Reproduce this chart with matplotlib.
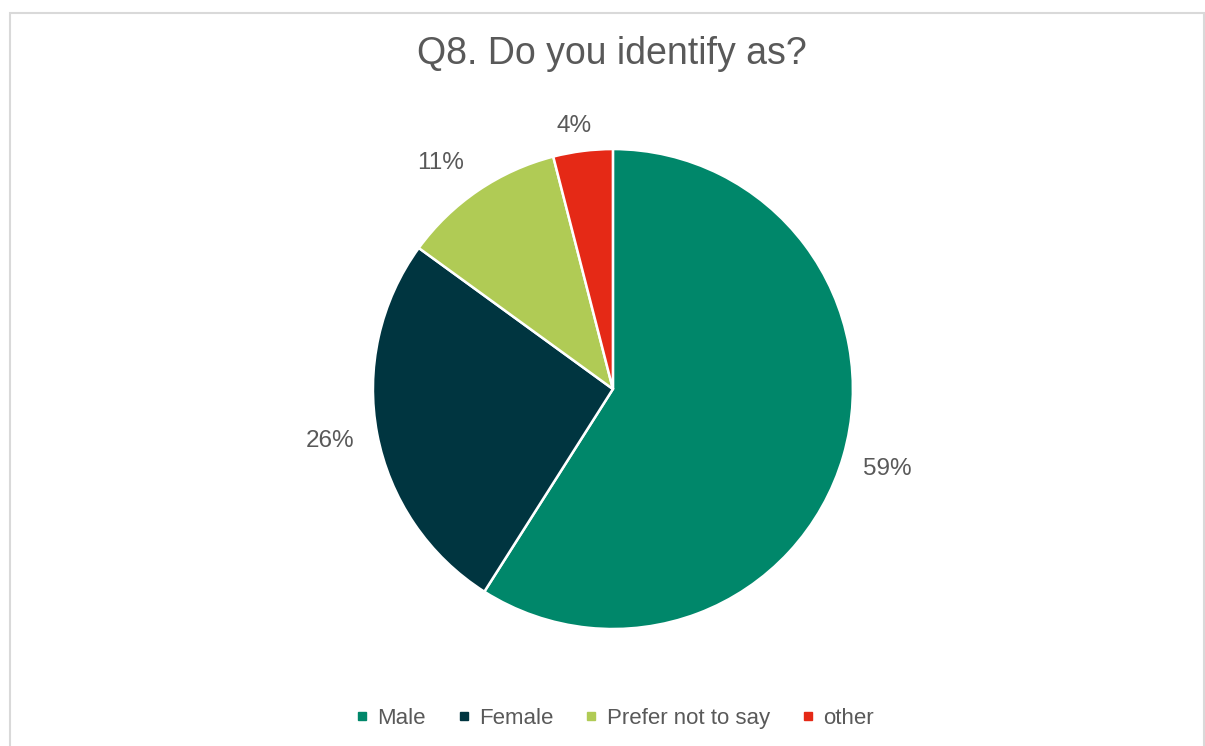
import matplotlib.pyplot as plt
import numpy as np
from matplotlib.lines import Line2D
from matplotlib.patches import Rectangle

plt.rcParams['font.family'] = ['Liberation Sans', 'DejaVu Sans']

# Data
categories = ['Male', 'Female', 'Prefer not to say', 'other']
values = [59, 26, 11, 4]
colors = ['#00876A', '#003540', '#B0CB55', '#E52916']
text_color = '#595959'

fig = plt.figure(figsize=(12.05, 7.46), dpi=100)

# chart area border
fig.patches.append(Rectangle((10 / 1205, -0.05), 1194 / 1205, 1.05 - 13 / 746,
                             transform=fig.transFigure, fill=False,
                             edgecolor='#D9D9D9', linewidth=1.5))

ax = fig.add_axes([0.3095, 0.1568, 0.3983, 0.6434])
wedges, _ = ax.pie(values, colors=colors, startangle=90, counterclock=False,
                   wedgeprops=dict(edgecolor='white', linewidth=1.8))
ax.set_aspect('equal')
ax.set_xlim(-1, 1)
ax.set_ylim(-1, 1)

# percentage labels outside the slices (best-fit style nudges)
dists = [1.19, 1.2, 1.185, 1.11]
nudges = [0, -0.5, 3.0, 1.2]
for w, v, d, n in zip(wedges, values, dists, nudges):
    ang = np.deg2rad((w.theta1 + w.theta2) / 2 + n)
    ax.text(d * np.cos(ang), d * np.sin(ang), f'{v}%', ha='center', va='center',
            fontsize=17.5, color=text_color)

fig.text(0.508, 0.927, 'Q8. Do you identify as?', ha='center', va='center',
         fontsize=27, color=text_color)

handles = [Line2D([], [], marker='s', linestyle='none', markersize=6,
                  markerfacecolor=c, markeredgecolor=c) for c in colors]
fig.legend(handles, categories, loc='center', bbox_to_anchor=(0.51, 0.0375),
           ncol=4, frameon=False, fontsize=16, labelcolor=text_color,
           handlelength=0.6, handletextpad=0.4, columnspacing=1.4)

plt.savefig('out.png', dpi=100)
